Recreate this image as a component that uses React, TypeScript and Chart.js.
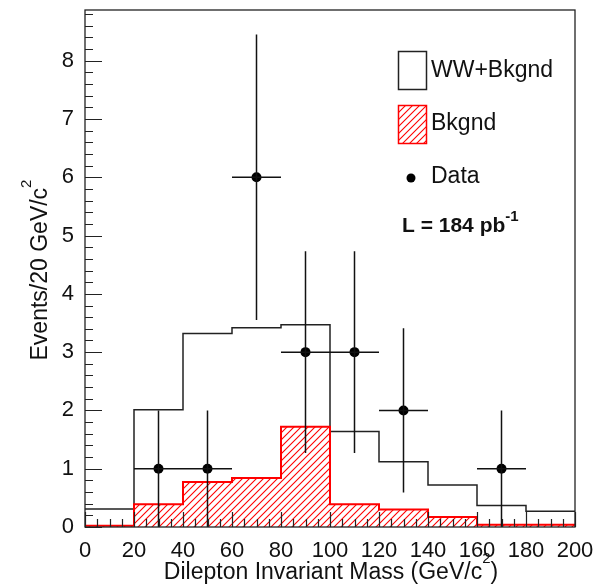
import React, { useEffect, useRef } from 'react';
import { Chart, registerables } from 'chart.js';

Chart.register(...registerables);

// ---- data ----
const binEdges = [0, 20, 40, 60, 80, 100, 120, 140, 160, 180, 200];
const wwPlusBkgnd = [0.31, 2.01, 3.32, 3.42, 3.47, 1.64, 1.12, 0.72, 0.37, 0.27];
const bkgnd = [0.02, 0.39, 0.77, 0.84, 1.72, 0.39, 0.30, 0.17, 0.04, 0.04];
const dataX = [30, 50, 70, 90, 110, 130, 170];
const dataY = [1, 1, 6, 3, 3, 2, 1];
const dataErrLow = [1, 1, 2.45, 1.73, 1.73, 1.41, 1];
const dataErrHigh = [1, 1, 2.45, 1.73, 1.73, 1.41, 1];
const dataXErr = [10, 10, 10, 10, 10, 10, 10];
const xTickStep = 20;
const yTickStep = 1;
const xMax = 200;
const yMax = 8.87;

const FONT = '"Liberation Sans", Arial, Helvetica, sans-serif';

function stepPoints(edges: number[], vals: number[]) {
  return edges.map((e, i) => ({ x: e, y: vals[Math.min(i, vals.length - 1)] }));
}

function makeHatch(ctx: CanvasRenderingContext2D) {
  const s = 7;
  const p = document.createElement('canvas');
  p.width = s;
  p.height = s;
  const c = p.getContext('2d')!;
  c.strokeStyle = '#ff0000';
  c.lineWidth = 1.1;
  c.beginPath();
  c.moveTo(0, s);
  c.lineTo(s, 0);
  c.moveTo(-2, 2);
  c.lineTo(2, -2);
  c.moveTo(s - 2, s + 2);
  c.lineTo(s + 2, s - 2);
  c.stroke();
  return ctx.createPattern(p, 'repeat')!;
}

export default function App() {
  const ref = useRef<HTMLCanvasElement>(null);

  useEffect(() => {
    document.body.style.margin = '0';
    const canvas = ref.current!;
    const ctx0 = canvas.getContext('2d')!;
    const hatch = makeHatch(ctx0);

    const rootStyle = {
      id: 'rootStyle',
      afterDatasetsDraw(chart: any) {
        const ctx = chart.ctx as CanvasRenderingContext2D;
        const xs = chart.scales.x;
        const ys = chart.scales.y;
        ctx.save();
        ctx.strokeStyle = '#111';
        ctx.lineWidth = 1.5;
        ctx.beginPath();
        dataX.forEach((xv, i) => {
          const px = xs.getPixelForValue(xv);
          const py = ys.getPixelForValue(dataY[i]);
          ctx.moveTo(xs.getPixelForValue(xv - dataXErr[i]), py);
          ctx.lineTo(xs.getPixelForValue(xv + dataXErr[i]), py);
          ctx.moveTo(px, ys.getPixelForValue(dataY[i] - dataErrLow[i]));
          ctx.lineTo(px, ys.getPixelForValue(dataY[i] + dataErrHigh[i]));
        });
        ctx.stroke();
        ctx.restore();
      },
      afterDraw(chart: any) {
        const ctx = chart.ctx as CanvasRenderingContext2D;
        const a = chart.chartArea;
        const xs = chart.scales.x;
        const ys = chart.scales.y;
        ctx.save();
        // frame
        ctx.strokeStyle = '#222';
        ctx.lineWidth = 1.3;
        ctx.strokeRect(a.left, a.top, a.right - a.left, a.bottom - a.top);
        // ticks (inside)
        ctx.lineWidth = 1.2;
        ctx.beginPath();
        for (let v = 0; v <= yMax + 1e-9; v += 0.2) {
          const py = Math.round(ys.getPixelForValue(v)) + 0.5;
          const major = Math.abs(v - Math.round(v)) < 1e-6;
          ctx.moveTo(a.left, py);
          ctx.lineTo(a.left + (major ? 17 : 8), py);
        }
        for (let v = 0; v <= xMax + 1e-9; v += 5) {
          const px = Math.round(xs.getPixelForValue(v)) + 0.5;
          const major = v % 20 === 0;
          ctx.moveTo(px, a.bottom);
          ctx.lineTo(px, a.bottom - (major ? 15 : 8));
        }
        ctx.stroke();

        // axis titles
        ctx.fillStyle = '#111';
        ctx.textAlign = 'left';
        ctx.textBaseline = 'alphabetic';
        const mainF = `23px ${FONT}`;
        const supF = `15px ${FONT}`;
        // x title
        const xt1 = 'Dilepton Invariant Mass (GeV/c';
        const xt2 = '2';
        const xt3 = ')';
        ctx.font = mainF;
        const w1 = ctx.measureText(xt1).width;
        const w3 = ctx.measureText(xt3).width;
        ctx.font = supF;
        const w2 = ctx.measureText(xt2).width;
        const xtotal = w1 + w2 + w3;
        const x0 = 331 - xtotal / 2;
        const xb = 579;
        ctx.font = mainF;
        ctx.fillText(xt1, x0, xb);
        ctx.font = supF;
        ctx.fillText(xt2, x0 + w1, xb - 16);
        ctx.font = mainF;
        ctx.fillText(xt3, x0 + w1 + w2, xb);

        // y title
        const yt1 = 'Events/20 GeV/c';
        const yt2 = '2';
        ctx.font = mainF;
        const yw1 = ctx.measureText(yt1).width;
        ctx.font = supF;
        const yw2 = ctx.measureText(yt2).width;
        ctx.save();
        ctx.translate(47, 270);
        ctx.rotate(-Math.PI / 2);
        const y0 = -(yw1 + yw2) / 2;
        ctx.font = mainF;
        ctx.fillText(yt1, y0, 0);
        ctx.font = supF;
        ctx.fillText(yt2, y0 + yw1, -16);
        ctx.restore();

        // legend
        ctx.lineWidth = 1.5;
        ctx.strokeStyle = '#222';
        ctx.strokeRect(398.5, 51.5, 28, 38);
        ctx.fillStyle = hatch;
        ctx.fillRect(398, 105, 28, 38);
        ctx.strokeStyle = '#ff0000';
        ctx.strokeRect(398.5, 105.5, 28, 38);
        ctx.fillStyle = '#000';
        ctx.beginPath();
        ctx.arc(411, 178, 4.5, 0, Math.PI * 2);
        ctx.fill();
        ctx.fillStyle = '#111';
        ctx.font = `23px ${FONT}`;
        ctx.textBaseline = 'middle';
        ctx.fillText('WW+Bkgnd', 431, 71);
        ctx.fillText('Bkgnd', 431, 124);
        ctx.fillText('Data', 431, 177);
        ctx.font = `bold 21px ${FONT}`;
        ctx.textBaseline = 'alphabetic';
        ctx.fillText('L = 184 pb', 402, 232);
        const lw = ctx.measureText('L = 184 pb').width;
        ctx.font = `bold 15px ${FONT}`;
        ctx.fillText('-1', 402 + lw, 221);
        ctx.restore();
      },
    };

    const tickFont = { family: FONT, size: 22 };

    const chart = new Chart(canvas, {
      type: 'line',
      data: {
        datasets: [
          {
            label: 'Data',
            data: dataX.map((x, i) => ({ x, y: dataY[i] })),
            showLine: false,
            pointRadius: 5,
            pointBackgroundColor: '#000',
            pointBorderColor: '#000',
            pointBorderWidth: 0,
            borderColor: '#000',
          },
          {
            label: 'Bkgnd',
            data: stepPoints(binEdges, bkgnd),
            stepped: 'before',
            borderColor: '#ff0000',
            borderWidth: 2,
            backgroundColor: hatch as any,
            fill: 'origin',
            pointRadius: 0,
          },
          {
            label: 'WW+Bkgnd',
            data: stepPoints(binEdges, wwPlusBkgnd),
            stepped: 'before',
            borderColor: '#222',
            borderWidth: 1.5,
            fill: false,
            pointRadius: 0,
          },
        ],
      },
      options: {
        responsive: false,
        animation: false,
        devicePixelRatio: 1,
        layout: { padding: { left: 0, right: 20, top: 10, bottom: 0 } },
        plugins: { legend: { display: false }, tooltip: { enabled: false } },
        scales: {
          x: {
            type: 'linear',
            min: 0,
            max: xMax,
            grid: { display: false },
            border: { display: false },
            ticks: {
              stepSize: xTickStep,
              font: tickFont,
              color: '#111',
              padding: 3,
              maxRotation: 0,
              autoSkip: false,
            },
            afterFit: (s: any) => {
              s.height = 57;
              s.paddingLeft = 0;
              s.paddingRight = 0;
            },
          },
          y: {
            type: 'linear',
            min: 0,
            max: yMax,
            grid: { display: false },
            border: { display: false },
            ticks: {
              stepSize: yTickStep,
              font: tickFont,
              color: '#111',
              padding: 3,
            },
            afterBuildTicks: (s: any) => {
              s.ticks = s.ticks.filter((t: any) => Math.abs(t.value - Math.round(t.value)) < 1e-9);
            },
            afterFit: (s: any) => {
              s.width = 85;
              s.paddingTop = 0;
              s.paddingBottom = 0;
            },
          },
        },
      },
      plugins: [rootStyle],
    });

    return () => chart.destroy();
  }, []);

  return <canvas ref={ref} width={595} height={584} style={{ display: 'block' }} />;
}
